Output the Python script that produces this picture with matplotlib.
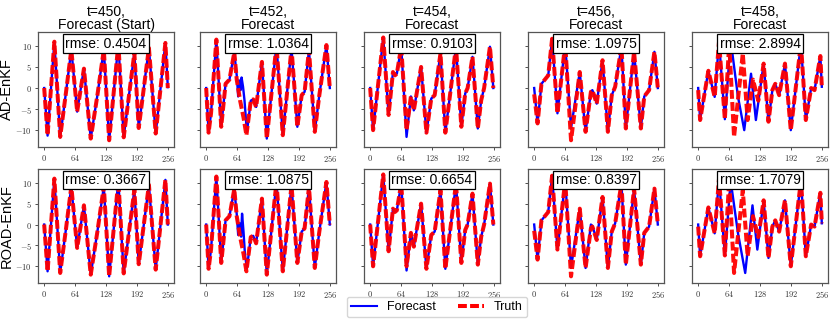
import matplotlib
matplotlib.use("Agg")
import matplotlib.pyplot as plt
from matplotlib.ticker import FuncFormatter, FixedLocator
from matplotlib.lines import Line2D

plt.rcParams['font.family'] = ['Liberation Sans', 'DejaVu Sans']
plt.rcParams['mathtext.fontset'] = 'cm'

# ---------------- data (index, value) ----------------
titles = ["t=450,\nForecast (Start)", "t=452,\nForecast", "t=454,\nForecast",
          "t=456,\nForecast", "t=458,\nForecast"]
row_labels = ["AD-EnKF", "ROAD-EnKF"]
rmse_ad = ["0.4504", "1.0364", "0.9103", "1.0975", "2.8994"]
rmse_road = ["0.3667", "1.0875", "0.6654", "0.8397", "1.7079"]
xticks = [0, 64, 128, 192, 256]
yticks = [-10, -5, 0, 5, 10]

truth450_x = [0, 7, 21, 33, 45, 56, 68, 82, 96, 110, 123, 134, 153, 164, 186, 195, 216, 230, 250, 255]
truth450_y = [0, -11.2, 11, -11.6, -1, 9.1, -5.6, 4.6, -12, -1.5, 9.1, -12.4, 10.5, -11.7, 8.3, -9.5, 9.5, -10.8, 10.7, 0]
ad450_x = truth450_x
ad450_y = [0, -11.3, 11, -11.7, -1, 9.2, -5.6, 4.7, -12, -1.5, 9.2, -12.5, 10.6, -11.7, 8.4, -9.4, 9.6, -10.9, 10.8, 0.2]
road450_x = truth450_x
road450_y = [0, -11.2, 11, -11.6, -1, 9.1, -5.6, 4.6, -12, -1.5, 9.1, -12.4, 10.5, -11.7, 8.3, -9.5, 9.5, -10.8, 10.7, 0]

truth452_x = [0, 5, 10, 21, 31, 40, 48, 58, 63, 70, 77, 83, 92, 97, 103, 115, 125, 145, 158, 176, 188, 197, 203, 212, 224, 233, 248, 255]
truth452_y = [0, -10.6, -6, 11.5, -9.2, 1, 2, 8.5, 2, -3, -7, -11.2, -3, -2.7, -4.5, 6.2, -12, 10.2, -11.2, 9.4, -9.2, -1.7, -0.9, 9, -10.4, -2, 10.2, 0]
ad452_x = [0, 5, 10, 21, 31, 40, 48, 58, 63, 66, 68, 71, 73, 76, 79, 84, 92, 97, 103, 115, 125, 145, 158, 176, 188, 197, 203, 212, 224, 233, 248, 255]
ad452_y = [0, -10.6, -6, 11.5, -9.2, 1, 2, 8.5, 3, -2, 1.8, -0.5, 2.5, 0.3, -2.9, -10.5, -3, -2.7, -4.5, 6.2, -12, 10.2, -11.2, 9.4, -9.2, -1.7, -0.9, 9, -10.4, -2, 10.2, 0]
road452_x = [0, 5, 10, 21, 31, 40, 48, 58, 63, 66, 69, 72, 74, 77, 80, 84, 92, 97, 103, 115, 125, 145, 158, 176, 188, 197, 203, 212, 224, 233, 248, 255]
road452_y = [0, -10.6, -6, 11.5, -9.2, 1, 2, 8.5, 2.5, -2.5, 0.3, -2.9, 2.6, -1.7, -7.2, -10.5, -3, -2.7, -4.5, 6.2, -12, 10.2, -11.2, 9.4, -9.2, -1.7, -0.9, 9, -10.4, -2, 10.2, 0]

truth454_x = [0, 6, 27, 38, 47, 51, 55, 64, 75, 84, 90, 105, 116, 126, 133, 145, 155, 177, 188, 196, 201, 211, 222, 229, 235, 247, 254]
truth454_y = [0, -10, 12, -6.4, 3.8, 3, 3.4, 9.8, -10, -2, -5.3, 5, -10.6, -2.5, -1.7, 8.2, -10.6, 9.8, -9.2, -1.3, 0, 7.4, -9.6, -2.9, 0, 9.8, 0]
ad454_x = truth454_x
ad454_y = [0, -10, 12, -6.4, 3.8, 3, 3.4, 9.8, -11.6, -2, -5.3, 5, -10.6, -2.5, -1.7, 8.2, -10.6, 9.8, -9.2, -1.3, 0, 7.4, -9.6, -2.9, 0, 9.8, 0]
road454_x = truth454_x
road454_y = [0, -10, 12, -6.4, 3.8, 3, 3.4, 9.8, -11, -2, -5.3, 5, -10.6, -2.5, -1.7, 8.2, -10.6, 9.8, -9.2, -1.3, 0, 7.4, -9.6, -2.9, 0, 9.8, 0]

truth456_x = [0, 7, 15, 22, 29, 37, 48, 64, 76, 94, 106, 117, 120, 129, 141, 152, 160, 167, 180, 189, 206, 220, 227, 237, 248, 255]
truth456_y = [-1.5, -8.4, 1, 2, 3, 11.7, -6, 10.5, -12.4, 3.8, -10.4, -0.9, -0.5, -3.7, 6.6, -10.4, -1.7, 0.3, 9.8, -9.6, 8.6, -9.6, -2, -0.5, 8.6, 0]
ad456_x = truth456_x
ad456_y = [0, -8.4, 1, 2, 3, 11.7, -6, 10.5, -9.5, 3.8, -10.4, -0.9, -0.5, -3.7, 6.6, -10.4, -1.7, 0.3, 9.8, -9.6, 8.6, -9.6, -2, -0.5, 8.6, 0]
road456_x = truth456_x
road456_y = [0, -8.4, 1, 2, 3, 11.7, -6, 10.5, -10.4, 3.8, -10.4, 0, -0.3, -3.7, 6.6, -10.4, -1.7, 0.3, 9.8, -9.6, 8.6, -9.6, -2, -0.5, 8.6, 0]

truth458_x = [0, 4, 21, 34, 43, 55, 64, 74, 92, 102, 113, 124, 135, 145, 153, 159, 167, 179, 191, 212, 222, 233, 240, 252, 255]
truth458_y = [-0.5, -7.6, 4.1, -2.1, 11, -7.4, 10.6, -11.6, 8.2, -7.6, 2, -3, 5.8, -8, -0.5, 1, -1.7, 5.8, -10, 10.6, -7.6, 0, -0.5, 7.6, 0.3]
ad458_x = [0, 4, 21, 34, 43, 55, 67, 82, 95, 109, 119, 135, 145, 153, 159, 167, 179, 191, 212, 222, 233, 240, 252, 255]
ad458_y = [0, -7.6, 4.1, -2.1, 11, -7.4, 11.4, -2, -10, 3.4, -7.6, 5.8, -8, -0.5, 1, -1.7, 5.8, -10, 10.6, -7.6, 0, -0.5, 7.6, 0.3]
road458_x = [0, 4, 21, 34, 43, 55, 67, 82, 97, 112, 122, 135, 145, 153, 159, 167, 179, 191, 212, 222, 233, 240, 252, 255]
road458_y = [0, -7.6, 4.1, -2.1, 11, -7.4, 10.5, -2, -11.6, 4.6, -6, 5.8, -8, -0.5, 1, -1.7, 5.8, -10, 10.6, -7.6, 0, -0.5, 7.6, 0.3]

truth = [(truth450_x, truth450_y), (truth452_x, truth452_y), (truth454_x, truth454_y),
         (truth456_x, truth456_y), (truth458_x, truth458_y)]
ad = [(ad450_x, ad450_y), (ad452_x, ad452_y), (ad454_x, ad454_y), (ad456_x, ad456_y), (ad458_x, ad458_y)]
road = [(road450_x, road450_y), (road452_x, road452_y), (road454_x, road454_y),
        (road456_x, road456_y), (road458_x, road458_y)]

# ---------------- figure ----------------
W, H = 831, 322
fig = plt.figure(figsize=(W / 100, H / 100), dpi=100)

lefts = [38, 200, 364, 528, 692]
row_boxes = [(32, 147), (169, 283)]
fmt = FuncFormatter(lambda v, p: r"$%d$" % v)
red_dash = (0, (2.2, 0.8))

for r, (top, bot) in enumerate(row_boxes):
    fc = ad if r == 0 else road
    rm = rmse_ad if r == 0 else rmse_road
    for c in range(5):
        ax = fig.add_axes([lefts[c] / W, 1 - bot / H, 136 / W, (bot - top) / H])
        fx, fy = fc[c]
        tx, ty = truth[c]
        ax.plot(fx, fy, color='#0000ff', lw=1.7, solid_joinstyle='round')
        ax.plot(tx, ty, color='#ff0000', lw=2.9, linestyle=red_dash, alpha=0.95)
        ax.set_ylim(-14, 13.3)
        ax.set_xlim(-12.75, 267.75)
        ax.xaxis.set_major_locator(FixedLocator(xticks))
        ax.yaxis.set_major_locator(FixedLocator(yticks))
        ax.xaxis.set_major_formatter(fmt)
        ax.yaxis.set_major_formatter(fmt)
        ax.tick_params(labelsize=6, length=2.5, width=0.6, pad=2, colors='#333333')
        if c > 0:
            ax.set_yticklabels([])
        for s in ax.spines.values():
            s.set_color('#555555')
            s.set_linewidth(0.9)
        ax.text(0.5, 0.9, "rmse: " + rm[c], transform=ax.transAxes, ha='center', va='center',
                fontsize=10, bbox=dict(boxstyle='square,pad=0.15', fc='white', ec='black', lw=0.9))
        if r == 0:
            ax.set_title(titles[c], fontsize=10, pad=0, linespacing=0.95)
        if c == 0:
            ax.set_ylabel(row_labels[r], fontsize=10.5, labelpad=1)

handles = [Line2D([], [], color='#0000ff', lw=1.5),
           Line2D([], [], color='#ff0000', lw=2.9, linestyle=red_dash)]
fig.legend(handles, ["Forecast", "Truth"], loc='lower center', bbox_to_anchor=(437 / W, -0.005),
           ncol=2, fontsize=9, frameon=True, fancybox=True, edgecolor='#cccccc',
           handlelength=2.1, columnspacing=1.7, borderpad=0.35)

fig.savefig("out.png", dpi=100)
